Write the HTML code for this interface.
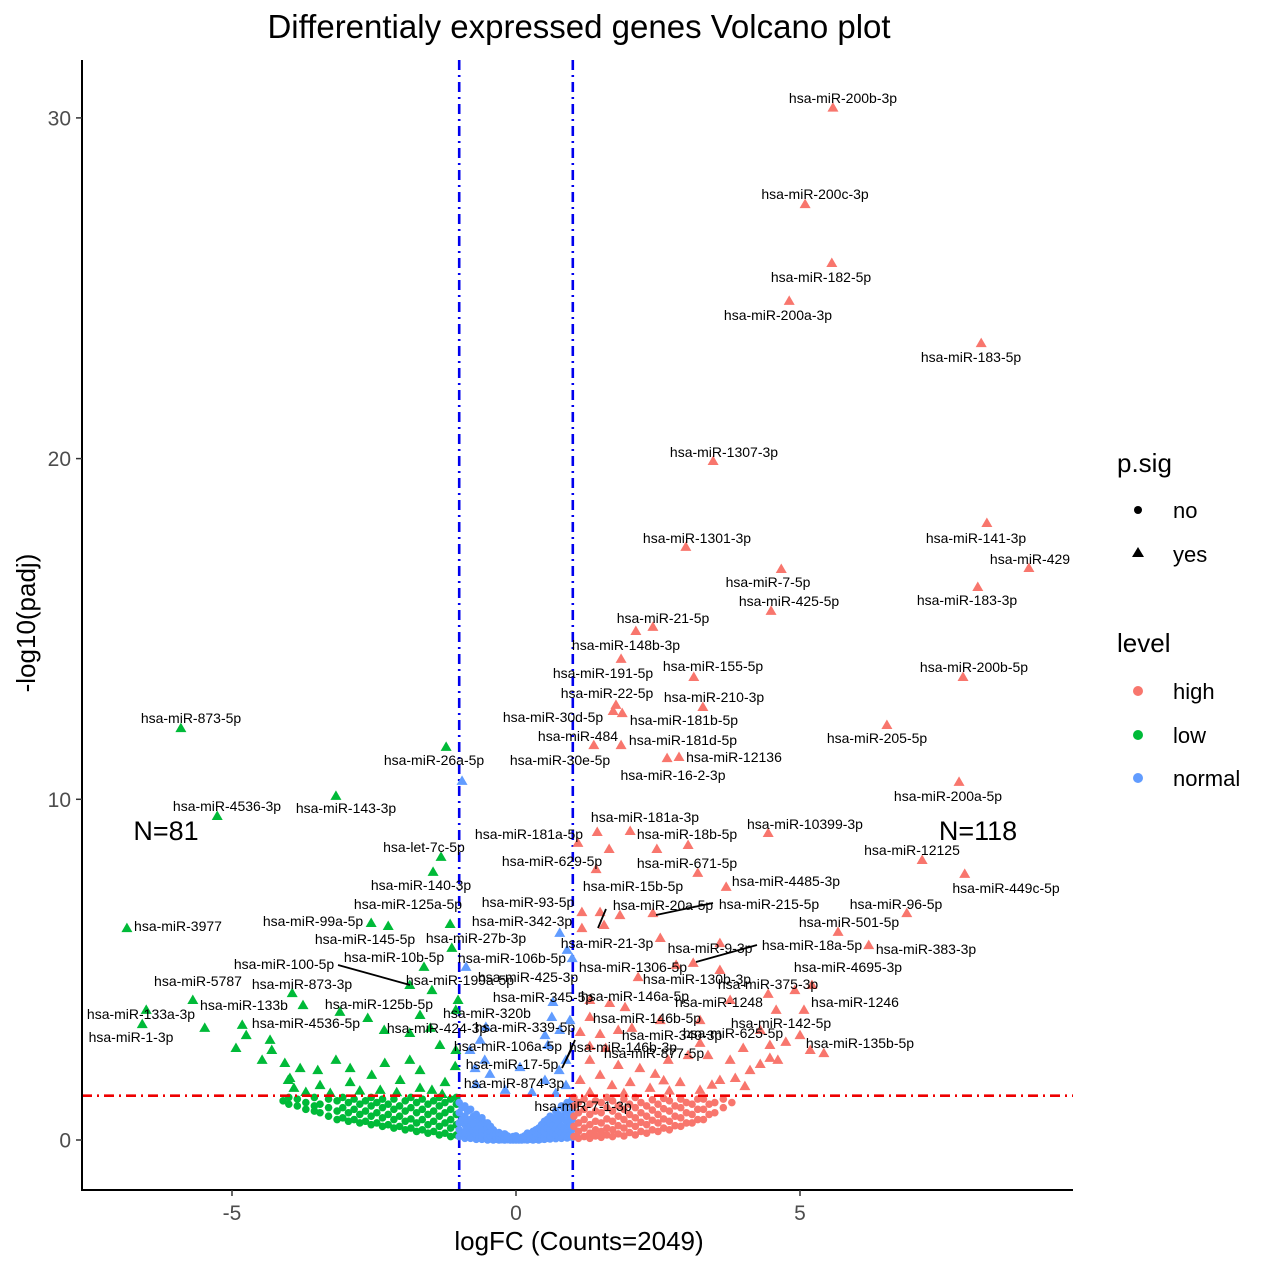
<!DOCTYPE html>
<html><head><meta charset="utf-8"><style>
html,body{margin:0;padding:0;background:#fff;}
svg{display:block;font-family:"Liberation Sans",Arial,sans-serif;}
</style></head><body>
<svg id="chart" width="1269" height="1269" viewBox="0 0 1269 1269" xmlns="http://www.w3.org/2000/svg">
<rect width="1269" height="1269" fill="#fff"/>
<text x="579" y="38" font-size="33" text-anchor="middle" fill="#000">Differentialy expressed genes Volcano plot</text>
<g id="marks"></g>
<g id="labels" font-size="14" fill="#000" text-anchor="middle"></g>
<g id="axes"></g>
<text x="579" y="1250" font-size="26" text-anchor="middle">logFC (Counts=2049)</text>
<text transform="translate(35,623) rotate(-90)" font-size="26" text-anchor="middle">-log10(padj)</text>
<text x="166" y="840" font-size="27" text-anchor="middle">N=81</text>
<text x="978" y="840" font-size="27" text-anchor="middle">N=118</text>
<g font-size="22">
<text x="1117" y="472" font-size="26">p.sig</text>
<circle cx="1138" cy="510" r="4" fill="#000"/>
<text x="1173" y="518">no</text>
<polygon points="1138,547 1144,557 1132,557" fill="#000"/>
<text x="1173" y="562">yes</text>
<text x="1117" y="652" font-size="26">level</text>
<circle cx="1138" cy="691" r="5" fill="#F8766D"/>
<text x="1173" y="699">high</text>
<circle cx="1138" cy="735" r="5" fill="#00BA38"/>
<text x="1173" y="743">low</text>
<circle cx="1138" cy="778" r="5" fill="#619CFF"/>
<text x="1173" y="786">normal</text>
</g>
</svg>
<script>
// ---- data ----
const xTicks = [-5, 0, 5];
const yTicks = [0, 10, 20, 30];
const fcCut = 1;
const padjLine = 1.3;
// non-significant circles: "x:y,y,y;..."
const blueCircles = "-1.0:.1,.3,.5,.8,1.1;-0.95:.2,.6,.95;-0.9:.05,.25,.45,.7,1.0;-0.85:.15,.35,.55,.85;-0.8:.05,.2,.4,.6,.9;-0.75:.1,.28,.48,.7;-0.7:.02,.15,.3,.5,.75;-0.65:.06,.2,.4,.58;-0.6:.02,.1,.25,.45,.65;-0.55:.05,.16,.3,.5;-0.5:0,.08,.2,.35,.5;-0.45:.03,.12,.25,.4;-0.4:0,.05,.15,.3;-0.35:.02,.09,.2;-0.3:0,.04,.12,.22;-0.25:.01,.07,.16;-0.2:0,.03,.1,.18;-0.15:.01,.05,.12;-0.1:0,.02,.08;-0.05:0,.04,.1;0:0,.02,.06,.12;0.05:0,.04;0.1:0,.03,.08;0.15:.01,.06,.12;0.2:0,.04,.1,.2;0.25:.02,.08,.16;0.3:0,.05,.12,.25;0.35:.02,.1,.2,.3;0.4:0,.06,.18,.35;0.45:.03,.14,.28,.45;0.5:.02,.1,.25,.4,.55;0.55:.05,.18,.35,.6;0.6:.03,.12,.3,.5,.7;0.65:.08,.22,.42,.65;0.7:.04,.15,.35,.6,.85;0.75:.1,.28,.5,.75;0.8:.05,.2,.4,.7,1.0;0.85:.12,.32,.6,.9;0.9:.06,.25,.5,.8,1.1;0.95:.15,.4,.7,1.05;0.99:.08,.3,.6,.9,1.2";
const greenCircles = "-1.05:.15,.45,.75,1.05,1.25;-1.15:.1,.35,.6,.9,1.2;-1.25:.2,.5,.8,1.1;-1.35:.15,.4,.7,1.0,1.25;-1.45:.25,.55,.85,1.15;-1.55:.2,.45,.75,1.05;-1.65:.3,.6,.9,1.2;-1.75:.25,.5,.8,1.1;-1.85:.35,.62,.95,1.25;-1.95:.3,.55,.85,1.15;-2.05:.4,.7,1.0;-2.15:.35,.6,.9,1.2;-2.25:.45,.75,1.05;-2.35:.4,.65,.95,1.2;-2.45:.5,.8,1.1;-2.55:.45,.7,1.0,1.25;-2.65:.55,.85,1.15;-2.75:.5,.75,1.05;-2.85:.6,.9,1.2;-2.95:.55,.8,1.1;-3.05:.65,.95,1.25;-3.15:.6,.85,1.15;-3.3:.7,.95,1.2;-3.45:.8,1.05;-3.55:.85,1.0,1.25;-3.7:.9,1.1;-3.85:1.0,1.2;-4.0:1.05,1.25;-4.1:1.15";
const redCircles = "1.02:.1,.4,.7,1.0,1.25;1.1:.05,.25,.5,.8,1.1;1.2:.1,.35,.6,.9,1.2;1.3:.05,.2,.45,.75,1.05;1.4:.12,.3,.55,.85,1.15;1.5:.08,.25,.5,.8,1.1;1.6:.15,.35,.62,.95,1.25;1.7:.1,.3,.55,.85,1.15;1.8:.18,.42,.7,1.0;1.9:.12,.35,.6,.9,1.2;2.0:.22,.48,.75,1.05;2.1:.15,.4,.65,.95,1.25;2.2:.25,.52,.8,1.1;2.3:.2,.45,.7,1.0;2.4:.3,.58,.88,1.18;2.5:.25,.5,.75,1.05;2.6:.35,.62,.92,1.22;2.7:.3,.55,.85,1.15;2.8:.42,.7,1.0;2.9:.4,.65,.95,1.2;3.0:.5,.8,1.1;3.1:.5,.75,1.05;3.2:.6,.9,1.2;3.3:.6,.9,1.2;3.4:.75,1.05;3.5:.8,1.1;3.65:.95,1.2;3.8:1.1";
// significant triangles: "x:y;..."
const redTri = "5.58:30.30;5.09:27.47;5.56:25.74;4.81:24.63;8.19:23.39;3.47:19.93;8.29:18.11;2.99:17.41;9.03:16.79;4.67:16.76;8.13:16.23;4.49:15.53;2.11:14.94;2.41:15.06;1.85:14.12;3.13:13.59;7.87:13.59;1.71:12.59;1.87:12.53;1.76:12.77;3.29:12.71;6.53:12.18;1.37:11.59;1.85:11.59;2.87:11.24;2.66:11.21;7.80:10.51;4.44:9.01;1.43:9.04;2.01:9.07;1.64:8.54;1.09:8.72;7.15:8.22;2.48:8.54;3.03:8.66;3.20:7.84;7.90:7.81;3.70:7.43;2.41:6.66;5.67:6.11;6.21:5.72;6.88:6.66;1.41:7.95;1.16:6.69;1.48:6.69;1.16:6.22;1.55:6.31;1.83:6.60;2.54:5.93;3.12:5.20;3.59:5.78;2.82:5.14;3.59:4.99;2.15:4.78;1.30:4.11;1.65:4.02;1.92:3.90;1.30:3.61;1.13:3.17;1.48:3.11;1.80:3.23;2.04:3.29;2.54:3.52;3.24:3.52;3.77:4.11;4.44:4.29;4.91:4.40;5.21:4.55;4.58:3.82;5.07:3.82;3.24:2.85;3.38:2.49;4.30:3.23;4.47:2.79;4.75:2.88;5.00:3.08;5.18:2.64;5.42:2.55;2.68:2.35;3.03:2.49;1.80:2.20;2.18:2.11;2.45:1.94;1.30:2.35;1.48:1.91;1.69:1.61;2.01:1.70;2.36:1.53;2.89:1.70;3.24:1.47;3.59:1.76;3.86:1.82;4.12:2.05;4.30:2.23;4.47:2.41;1.13:1.76;1.30:1.41;4.03:1.58;1.30:2.76;1.58:2.70;4.00:2.70;3.77:2.35;4.61:2.35;2.7:1.45;3.45:1.62;1.9:1.38;2.6:1.75";
const greenTri = "-5.90:12.09;-5.26:9.51;-3.17:10.10;-1.23:11.54;-1.32:8.31;-1.46:7.87;-6.85:6.22;-2.55:6.37;-2.25:6.28;-1.16:6.34;-1.13:5.64;-1.62:5.08;-1.87:4.55;-1.48:4.40;-5.69:4.11;-6.51:3.82;-6.58:3.40;-5.48:3.29;-4.82:3.38;-4.75:3.08;-4.93:2.70;-4.33:2.94;-4.30:2.64;-3.94:4.31;-3.75:3.96;-3.10:3.76;-2.61:3.58;-2.32:3.23;-1.87:3.14;-1.69:3.67;-1.51:3.29;-1.06:3.82;-1.02:4.11;-1.34:2.79;-1.06:2.64;-4.07:2.26;-3.80:2.11;-3.49:2.05;-3.98:1.82;-3.91:1.53;-3.70:1.41;-3.17:2.35;-2.92:2.11;-2.54:1.91;-2.31:2.26;-2.04:1.76;-1.87:2.35;-1.69:2.05;-1.48:1.47;-1.25:1.70;-1.07:2.17;-2.92:1.70;-3.45:1.61;-3.27:1.38;-2.39:1.47;-1.69:1.53;-4.01:1.76;-4.47:2.35;-2.75:1.45;-2.1:1.4;-1.3:1.35";
const blueTri = "-0.95:10.54;0.77:6.08;0.90:5.58;0.99:5.34;-0.88:5.08;0.65:4.05;-0.53:3.32;0.63:3.61;0.56:2.79;-0.81:2.64;-0.55:2.35;0.07:2.14;0.88:2.35;0.76:2.05;0.51:1.76;-0.70:1.64;-0.19:1.47;0.28:1.41;0.70:1.38;0.88:1.61;-0.72:2.11;-0.46:1.94;0.77:3.23;0.95:3.52;0.51:3.08;-0.63:2.94";
// gene labels (text) with annotation placement (layout, px)
const geneLabels = [
["hsa-miR-200b-3p",843,98],["hsa-miR-200c-3p",815,194],["hsa-miR-182-5p",821,277],["hsa-miR-200a-3p",778,315],["hsa-miR-183-5p",971,357],["hsa-miR-1307-3p",724,452],["hsa-miR-141-3p",976,538],["hsa-miR-1301-3p",697,538],["hsa-miR-429",1030,559],["hsa-miR-7-5p",768,582],["hsa-miR-183-3p",967,600],["hsa-miR-425-5p",789,601],["hsa-miR-21-5p",663,618],["hsa-miR-148b-3p",626,645],["hsa-miR-191-5p",603,673],["hsa-miR-155-5p",713,666],["hsa-miR-200b-5p",974,667],["hsa-miR-22-5p",607,693],["hsa-miR-210-3p",714,697],["hsa-miR-30d-5p",553,717],["hsa-miR-181b-5p",684,720],["hsa-miR-205-5p",877,738],["hsa-miR-484",578,736],["hsa-miR-181d-5p",683,740],["hsa-miR-12136",734,757],["hsa-miR-30e-5p",560,760],["hsa-miR-16-2-3p",673,775],["hsa-miR-200a-5p",948,796],["hsa-miR-181a-3p",645,817],["hsa-miR-10399-3p",805,824],["hsa-miR-18b-5p",687,834],["hsa-miR-181a-5p",529,834],["hsa-miR-12125",912,850],["hsa-miR-629-5p",552,861],["hsa-miR-671-5p",687,863],["hsa-miR-449c-5p",1006,888],["hsa-miR-4485-3p",786,881],["hsa-miR-15b-5p",633,886],["hsa-miR-93-5p",528,902],["hsa-miR-20a-5p",663,905],["hsa-miR-215-5p",769,904],["hsa-miR-96-5p",896,904],["hsa-miR-501-5p",849,922],["hsa-miR-342-3p",522,921],["hsa-miR-21-3p",607,943],["hsa-miR-18a-5p",812,945],["hsa-miR-9-3p",710,948],["hsa-miR-383-3p",926,949],["hsa-miR-1306-5p",633,967],["hsa-miR-4695-3p",848,967],["hsa-miR-130b-3p",697,979],["hsa-miR-375-3p",768,984],["hsa-miR-146a-5p",635,996],["hsa-miR-1246",855,1002],["hsa-miR-1248",719,1002],["hsa-miR-146b-5p",647,1018],["hsa-miR-142-5p",781,1023],["hsa-miR-340-3p",672,1035],["hsa-miR-625-5p",733,1033],["hsa-miR-135b-5p",860,1043],["hsa-miR-146b-3p",623,1047],["hsa-miR-877-5p",654,1053],
["hsa-miR-873-5p",191,718],["hsa-miR-4536-3p",227,806],["hsa-miR-143-3p",346,808],["hsa-miR-26a-5p",434,760],["hsa-let-7c-5p",424,847],["hsa-miR-140-3p",421,885],["hsa-miR-125a-5p",408,904],["hsa-miR-99a-5p",313,921],["hsa-miR-3977",178,926],["hsa-miR-145-5p",365,939],["hsa-miR-27b-3p",476,938],["hsa-miR-100-5p",284,964],["hsa-miR-10b-5p",394,957],["hsa-miR-5787",198,981],["hsa-miR-873-3p",302,984],["hsa-miR-199a-5p",460,980],["hsa-miR-133b",244,1005],["hsa-miR-125b-5p",379,1004],["hsa-miR-133a-3p",141,1014],["hsa-miR-4536-5p",306,1023],["hsa-miR-424-3p",437,1028],["hsa-miR-1-3p",131,1037],
["hsa-miR-106b-5p",512,958],["hsa-miR-425-3p",528,977],["hsa-miR-345-5p",543,997],["hsa-miR-320b",487,1013],["hsa-miR-339-5p",525,1027],["hsa-miR-106a-5p",508,1046],["hsa-miR-17-5p",512,1064],["hsa-miR-874-3p",514,1083],["hsa-miR-7-1-3p",583,1106]
];
const leaderLines = [[338,965,410,985],[606,909,598,928],[656,915,713,903],[696,962,757,945],[562,1068,572,1048],[566,1060,575,1040]];

// ---- scales ----
const sx = v => 516 + v * 56.8;
const sy = v => 1140 - v * 34.07;
const COL = {high:"#F8766D", low:"#00BA38", normal:"#619CFF"};
const NS = "http://www.w3.org/2000/svg";
function mk(tag, attrs, parent){const e=document.createElementNS(NS,tag);for(const k in attrs)e.setAttribute(k,attrs[k]);parent.appendChild(e);return e;}
function parseGroup(s){const out=[];s.split(";").forEach(g=>{const [x,ys]=g.split(":");ys.split(",").forEach(y=>out.push([+x,+y]));});return out;}

const marks = document.getElementById("marks");
const axes = document.getElementById("axes");

function refLines(){
  [-fcCut, fcCut].forEach(v=>{
    const l = mk("line",{x1:sx(v),x2:sx(v),y1:60,y2:1190,stroke:"#0000EE","stroke-width":2.6,"stroke-dasharray":"10,5,2,5"},marks);
    
    
  });
}
function circles(str, level){
  parseGroup(str).forEach(p=>{
    const c = mk("circle",{cx:sx(p[0]),cy:sy(p[1]),r:3.8,fill:COL[level]},marks);
    
    
  });
}
function tris(str, level){
  parseGroup(str).forEach(p=>{
    const x=sx(p[0]), y=sy(p[1]);
    const t = mk("polygon",{points:`${x},${y-5.5} ${x+5.5},${y+4} ${x-5.5},${y+4}`,fill:COL[level]},marks);
    
    
  });
}
refLines();
circles(greenCircles,"low");
circles(blueCircles,"normal");
circles(redCircles,"high");
tris(greenTri,"low");
tris(blueTri,"normal");
tris(redTri,"high");
const hl = mk("line",{x1:82,x2:1073,y1:sy(padjLine),y2:sy(padjLine),stroke:"#EE0000","stroke-width":2.6,"stroke-dasharray":"10,5,2,5"},marks);



const lab = document.getElementById("labels");
leaderLines.forEach(s=>{
  const l = mk("line",{x1:s[0],y1:s[1],x2:s[2],y2:s[3],stroke:"#000","stroke-width":1.8},lab);
  
  
});
geneLabels.forEach(g=>{
  const t = mk("text",{x:g[1],y:g[2]+5},lab);
  t.textContent = g[0];
  
  
});

const ya = mk("line",{x1:82,x2:82,y1:60,y2:1191,stroke:"#000","stroke-width":2},axes);


const xa = mk("line",{x1:81,x2:1073,y1:1190,y2:1190,stroke:"#000","stroke-width":2},axes);


yTicks.forEach(v=>{
  const tk = mk("line",{x1:76,x2:82,y1:sy(v),y2:sy(v),stroke:"#333","stroke-width":1.5},axes);
  
  
  const tl = mk("text",{x:71,y:sy(v)+7.5,"font-size":21,fill:"#4d4d4d","text-anchor":"end"},axes);
  tl.textContent = v;
  
  
});
xTicks.forEach(v=>{
  const tk = mk("line",{x1:sx(v),x2:sx(v),y1:1190,y2:1196,stroke:"#333","stroke-width":1.5},axes);
  
  
  const tl = mk("text",{x:sx(v),y:1220,"font-size":21,fill:"#4d4d4d","text-anchor":"middle"},axes);
  tl.textContent = v;
  
  
});
</script>
</body></html>
